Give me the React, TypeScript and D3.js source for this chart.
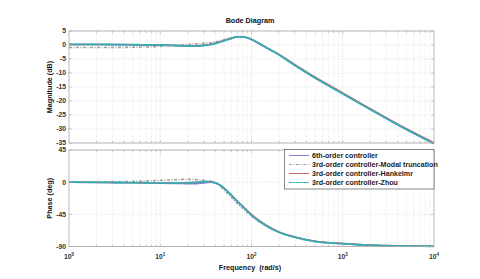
import React from "react";
import * as d3 from "d3";

const freqs = [1, 2, 5, 10, 15, 20, 25, 30, 35, 40, 45, 50, 60, 70, 80, 100, 120, 150, 200, 300, 500, 1000, 2000, 5000, 10000];

const mag6th = [0.2, 0.2, 0.1, 0.0, -0.2, -0.3, -0.3, -0.1, 0.2, 0.6, 1.1, 1.6, 2.4, 2.9, 2.9, 2.0, 0.6, -1.2, -3.5, -7.3, -11.8, -17.4, -23.0, -30.2, -35.2];
const magModal = [-0.9, -0.9, -0.8, -0.5, -0.1, 0.2, 0.4, 0.6, 0.8, 1.1, 1.5, 1.9, 2.6, 3.0, 3.0, 2.1, 0.7, -1.1, -3.4, -7.2, -11.7, -17.3, -22.9, -30.1, -35.1];
const magHankel = [0.2, 0.2, 0.1, 0.0, -0.2, -0.3, -0.3, -0.1, 0.2, 0.6, 1.1, 1.6, 2.4, 2.9, 2.9, 2.0, 0.6, -1.1, -3.3, -7.0, -11.5, -17.1, -22.7, -29.9, -34.9];
const magZhou = [0.2, 0.2, 0.1, 0.0, -0.2, -0.4, -0.4, -0.2, 0.1, 0.5, 1.0, 1.5, 2.3, 2.9, 2.9, 2.0, 0.6, -1.2, -3.5, -7.3, -11.8, -17.4, -23.0, -30.2, -35.2];

const ph6th = [0, -0.3, -0.8, -1.3, -1.8, -2.2, -2.0, -1.0, -0.2, -0.8, -4.0, -8.5, -18, -27, -34, -46, -54, -62, -70, -77, -83, -86, -88.2, -89.3, -89.7];
const phModal = [0, 0.3, 1.0, 2.5, 3.5, 4.0, 3.6, 2.6, 1.4, -0.5, -5.0, -11, -21, -30, -36.5, -47.5, -55, -62.5, -70, -77, -83, -86, -88.2, -89.3, -89.7];
const phHankel = [0, -0.3, -0.6, -1.0, -1.0, -0.8, -0.2, 0.6, 0.5, -1.0, -4.0, -8.5, -18, -26.5, -33.5, -45, -53, -61, -69.5, -76.5, -82.5, -85.8, -88, -89.2, -89.7];
const phZhou = [0, -0.3, -0.6, -1.0, -1.0, -0.8, -0.2, 0.8, 0.6, -1.0, -4.0, -8.5, -18, -27, -34, -46, -54, -62, -70, -77, -83, -86, -88.2, -89.3, -89.7];

const legendLabels = [
  "6th-order controller",
  "3rd-order controller-Modal truncation",
  "3rd-order controller-Hankelmr",
  "3rd-order controller-Zhou",
];

const magTicks = [5, 0, -5, -10, -15, -20, -25, -30, -35];
const phTicks = [45, 0, -45, -90];
const decades = [0, 1, 2, 3, 4];

const styles = [
  { color: "#8080d4", width: 1.6, dash: "" },
  { color: "#a0a0a0", width: 1.6, dash: "3,1.5,1,1.5" },
  { color: "#d06a6a", width: 1.4, dash: "" },
  { color: "#22b4b8", width: 1.8, dash: "3,0.5" },
];

const L = 69, R = 434;
const magTop = 31, magBot = 143;
const phTop = 150, phBot = 246.5;
const font = "'Liberation Sans', Arial, sans-serif";

export default function App() {
  const x = d3.scaleLog().domain([1, 10000]).range([L, R]);
  const yM = d3.scaleLinear().domain([-35, 5]).range([magBot, magTop]);
  const yP = d3.scaleLinear().domain([-90, 45]).range([phBot, phTop]);

  const minor: number[] = [];
  for (let k = 0; k < 4; k++) for (let m = 2; m <= 9; m++) minor.push(m * Math.pow(10, k));
  const major = [10, 100, 1000];

  const magSeries = [mag6th, magModal, magHankel, magZhou];
  const phSeries = [ph6th, phModal, phHankel, phZhou];

  const lineM = d3.line<number>().x((_, i) => x(freqs[i])).y((d) => yM(d)).curve(d3.curveMonotoneX);
  const lineP = d3.line<number>().x((_, i) => x(freqs[i])).y((d) => yP(d)).curve(d3.curveMonotoneX);

  const panel = (top: number, bot: number, yTicks: number[], ys: any, series: number[][], line: any, key: string) => (
    <g key={key}>
      <rect x={L} y={top} width={R - L} height={bot - top} fill="#fff" />
      {minor.map((f) => (
        <line key={"v" + f} x1={x(f)} x2={x(f)} y1={top} y2={bot} stroke="#d8d8d8" strokeWidth={0.6} strokeDasharray="1,1.5" />
      ))}
      {major.map((f) => (
        <line key={"V" + f} x1={x(f)} x2={x(f)} y1={top} y2={bot} stroke="#cccccc" strokeWidth={0.7} strokeDasharray="1,1.5" />
      ))}
      {yTicks.map((t) => (
        <line key={"h" + t} x1={L} x2={R} y1={ys(t)} y2={ys(t)} stroke="#d0d0d0" strokeWidth={0.6} strokeDasharray="1,1.5" />
      ))}
      {series.map((s, i) => (
        <path key={i} d={line(s)} fill="none" stroke={styles[i].color} strokeWidth={styles[i].width} strokeDasharray={styles[i].dash || undefined} />
      ))}
      <rect x={L} y={top} width={R - L} height={bot - top} fill="none" stroke="#a8a8a8" strokeWidth={0.8} />
      {minor.concat(major).map((f) => (
        <g key={"t" + f}>
          <line x1={x(f)} x2={x(f)} y1={bot} y2={bot - (major.includes(f) ? 3 : 2)} stroke="#a8a8a8" strokeWidth={0.6} />
          <line x1={x(f)} x2={x(f)} y1={top} y2={top + (major.includes(f) ? 3 : 2)} stroke="#a8a8a8" strokeWidth={0.6} />
        </g>
      ))}
      {yTicks.map((t) => (
        <g key={"yt" + t}>
          <line x1={L} x2={L + 3} y1={ys(t)} y2={ys(t)} stroke="#a8a8a8" strokeWidth={0.6} />
          <line x1={R} x2={R - 3} y1={ys(t)} y2={ys(t)} stroke="#a8a8a8" strokeWidth={0.6} />
          <text x={L - 3} y={ys(t) + 2.4} textAnchor="end" fontSize={6.8} fontWeight="bold" fill="#333" fontFamily={font}>
            {t}
          </text>
        </g>
      ))}
    </g>
  );

  return (
    <svg width={480} height={279} style={{ position: "absolute", left: 0, top: 0, background: "#fff" }}>
      <rect width={480} height={279} fill="#fff" />
      <text x={250} y={23} textAnchor="middle" fontSize={7.2} fontWeight="bold" fill="#111" fontFamily={font}>
        Bode Diagram
      </text>
      {panel(magTop, magBot, magTicks, yM, magSeries, lineM, "m")}
      {panel(phTop, phBot, phTicks, yP, phSeries, lineP, "p")}
      {decades.map((d) => (
        <text key={d} x={x(Math.pow(10, d))} y={259} textAnchor="middle" fontSize={6.8} fontWeight="bold" fill="#333" fontFamily={font}>
          10
          <tspan dy={-3} fontSize={4.5}>{d}</tspan>
        </text>
      ))}
      <text x={250} y={270} textAnchor="middle" fontSize={7.2} fontWeight="bold" fill="#111" fontFamily={font} xmlSpace="preserve">
        Frequency  (rad/s)
      </text>
      <text transform={`translate(52,${(magTop + magBot) / 2}) rotate(-90)`} textAnchor="middle" fontSize={7.2} fontWeight="bold" fill="#111" fontFamily={font}>
        Magnitude (dB)
      </text>
      <text transform={`translate(52,${(phTop + phBot) / 2}) rotate(-90)`} textAnchor="middle" fontSize={7.2} fontWeight="bold" fill="#111" fontFamily={font}>
        Phase (deg)
      </text>
      <g>
        <rect x={284.5} y={149.5} width={149.5} height={39.5} fill="#fff" stroke="#555" strokeWidth={0.7} />
        {legendLabels.map((lab, i) => (
          <g key={lab}>
            <line x1={289} x2={309} y1={155.5 + i * 9} y2={155.5 + i * 9} stroke={styles[i].color} strokeWidth={1} strokeDasharray={styles[i].dash || undefined} />
            <text x={312} y={158 + i * 9} fontSize={7.1} fontWeight="bold" fill="#222" fontFamily={font}>
              {lab}
            </text>
          </g>
        ))}
      </g>
    </svg>
  );
}
